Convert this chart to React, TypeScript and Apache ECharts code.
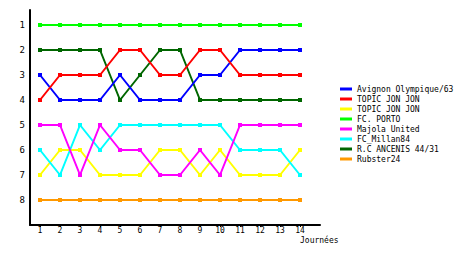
import React, { useEffect, useRef } from "react";
import * as echarts from "echarts";

const rounds = [1, 2, 3, 4, 5, 6, 7, 8, 9, 10, 11, 12, 13, 14];
const rankLabels = [1, 2, 3, 4, 5, 6, 7, 8];

const teamNames = [
  "Avignon Olympique/63",
  "TOPIC JON JON",
  "TOPIC JON JON",
  "FC. PORTO",
  "Majola United",
  "FC_Millan84",
  "R.C ANCENIS 44/31",
  "Rubster24",
];
const teamColors = ["#0000ff", "#ff0000", "#ffff00", "#00ff00", "#ff00ff", "#00ffff", "#006600", "#ff9900"];

const avignon = [3, 4, 4, 4, 3, 4, 4, 4, 3, 3, 2, 2, 2, 2];
const topic1 = [4, 3, 3, 3, 2, 2, 3, 3, 2, 2, 3, 3, 3, 3];
const topic2 = [7, 6, 6, 7, 7, 7, 6, 6, 7, 6, 7, 7, 7, 6];
const porto = [1, 1, 1, 1, 1, 1, 1, 1, 1, 1, 1, 1, 1, 1];
const majola = [5, 5, 7, 5, 6, 6, 7, 7, 6, 7, 5, 5, 5, 5];
const millan = [6, 7, 5, 6, 5, 5, 5, 5, 5, 5, 6, 6, 6, 7];
const ancenis = [2, 2, 2, 2, 4, 3, 2, 2, 4, 4, 4, 4, 4, 4];
const rubster = [8, 8, 8, 8, 8, 8, 8, 8, 8, 8, 8, 8, 8, 8];

const teamData = [avignon, topic1, topic2, porto, majola, millan, ancenis, rubster];

const FONT = "DejaVu Sans Mono";
const SEP = "#";
const keyOf = (i: number) => teamNames[i] + SEP + i;

export default function App() {
  const ref = useRef<HTMLDivElement>(null);
  useEffect(() => {
    if (!ref.current) return;
    const chart = echarts.init(ref.current, null, { renderer: "svg" });
    const drawOrder = [3, 6, 0, 1, 7, 2, 5, 4];
    const series = drawOrder.map((i) => ({
      name: keyOf(i),
      type: "line",
      data: rounds.map((r, k) => [r, teamData[i][k]]),
      symbol: "rect",
      symbolSize: 4,
      showSymbol: true,
      lineStyle: { color: teamColors[i], width: 2 },
      itemStyle: { color: teamColors[i] },
      emphasis: { disabled: true },
      z: 2 + drawOrder.indexOf(i),
    }));
    chart.setOption({
      animation: false,
      backgroundColor: "#ffffff",
      color: teamColors,
      grid: { left: 30, right: 140, top: 10, bottom: 30 },
      xAxis: {
        type: "value",
        min: 0.5,
        max: 15,
        axisLine: { show: true, lineStyle: { color: "#000000", width: 2 } },
        axisTick: { show: true, customValues: rounds, length: 2, lineStyle: { color: "#000000", width: 1 } },
        splitLine: { show: false },
        axisLabel: {
          customValues: rounds,
          color: "#000000",
          fontFamily: FONT,
          fontSize: 8,
          lineHeight: 8,
          margin: 1,
        },
      },
      yAxis: {
        type: "value",
        inverse: true,
        min: 0.4,
        max: 9,
        axisLine: { show: true, lineStyle: { color: "#000000", width: 2 } },
        axisTick: { show: false },
        splitLine: { show: false },
        axisLabel: {
          customValues: rankLabels,
          color: "#000000",
          fontFamily: FONT,
          fontSize: 9,
          margin: 5,
        },
      },
      legend: {
        orient: "vertical",
        left: 340,
        top: 84,
        padding: 0,
        icon: "rect",
        itemWidth: 12,
        itemHeight: 3,
        itemGap: 0,
        itemTextGap: 3,
        data: teamNames.map((_, i) => ({ name: keyOf(i), itemStyle: { color: teamColors[i] } })),
        formatter: (name: string) => name.split(SEP)[0],
        textStyle: { color: "#000000", fontFamily: FONT, fontSize: 8, lineHeight: 10 },
        selectedMode: false,
      },
      graphic: [
        {
          type: "text",
          left: 300,
          top: 236,
          style: { text: "Journées", fill: "#000000", font: `8px '${FONT}'` },
        },
      ],
      series,
    });
    return () => chart.dispose();
  }, []);
  return (
    <div
      ref={ref}
      style={{ position: "absolute", left: 0, top: 0, width: 460, height: 255 }}
    />
  );
}
